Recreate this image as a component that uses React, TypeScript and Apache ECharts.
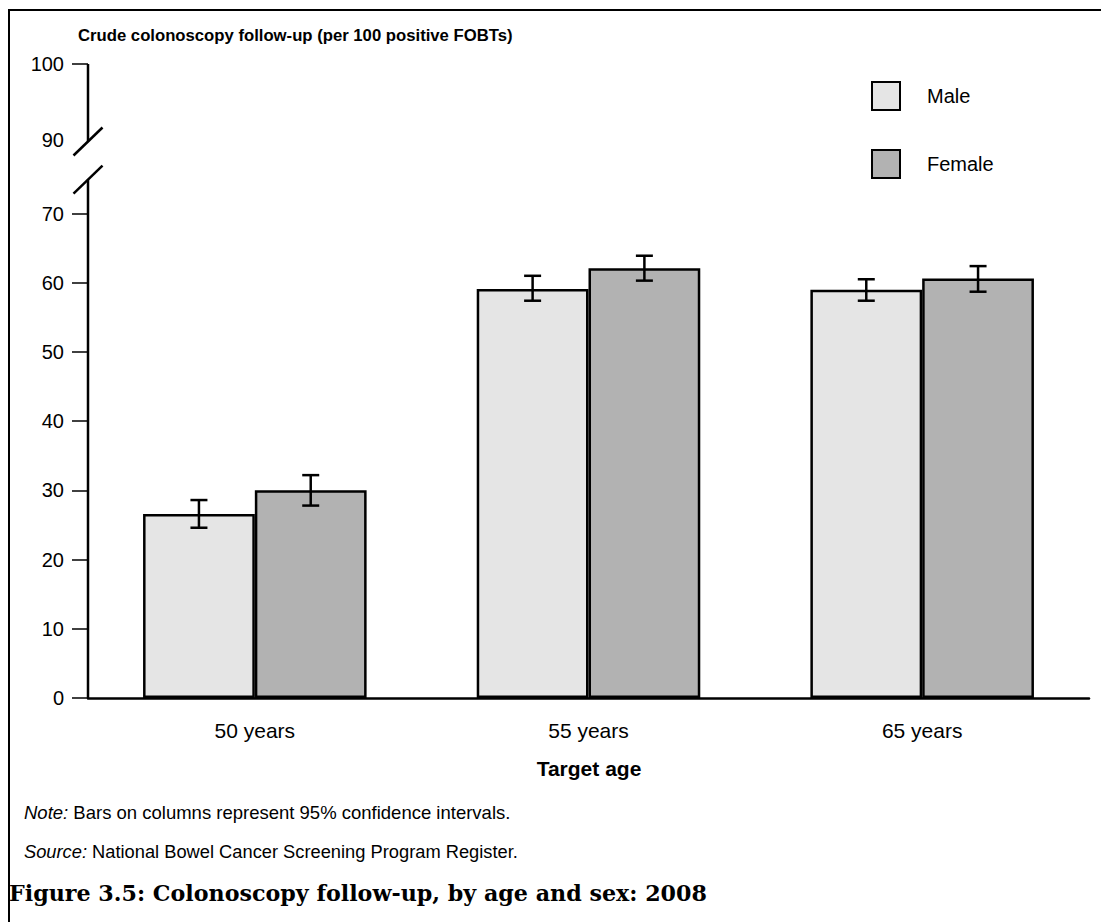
import React, { useEffect, useRef } from "react";
import * as echarts from "echarts";

// ---- data ----
const categories = ["50 years", "55 years", "65 years"];
const seriesNames = ["Male", "Female"];
const maleValues = [26.6, 59.1, 59.0];
const femaleValues = [30.0, 62.1, 60.6];
const maleLow = [24.6, 57.4, 57.4];
const maleHigh = [28.6, 61.0, 60.5];
const femaleLow = [27.8, 60.3, 58.7];
const femaleHigh = [32.2, 63.9, 62.4];
const yTickValues = [0, 10, 20, 30, 40, 50, 60, 70];
// broken axis: where the upper labels sit on the drawing scale
const AXIS_TOP = 91.6; // "100"
const POS_90 = 80.6; // "90"
const BREAK_UPPER = 80.4;
const BREAK_LOWER = 74.9;

const BAR_GAP = 0.33;
const FONT = "Liberation Sans, Arial, sans-serif";

function errorSeries(name: string, low: number[], high: number[], side: number) {
  return {
    type: "custom",
    name: name + " CI",
    z: 10,
    silent: true,
    data: categories.map((_, i) => [i, low[i], high[i]]),
    encode: { x: 0, y: [1, 2] },
    renderItem: (params: any, api: any) => {
      const i = api.value(0);
      const lo = api.coord([i, api.value(1)]);
      const hi = api.coord([i, api.value(2)]);
      const catW = api.size([1, 0])[0];
      const bw = (catW * (1 - BAR_GAP)) / 2;
      const x = lo[0] + (side * bw) / 2;
      const cap = 8.5;
      const style = { stroke: "#000", lineWidth: 2.5 };
      return {
        type: "group",
        children: [
          { type: "line", shape: { x1: x, y1: hi[1], x2: x, y2: lo[1] }, style },
          { type: "line", shape: { x1: x - cap, y1: hi[1], x2: x + cap, y2: hi[1] }, style },
          { type: "line", shape: { x1: x - cap, y1: lo[1], x2: x + cap, y2: lo[1] }, style },
        ],
      };
    },
  };
}

export default function App() {
  const ref = useRef<HTMLDivElement>(null);
  useEffect(() => {
    if (!ref.current) return;
    const chart = echarts.init(ref.current, null, { renderer: "svg" });
    const option: any = {
      animation: false,
      backgroundColor: "#fff",
      textStyle: { fontFamily: FONT, color: "#000" },
      grid: { left: 88, right: 12, top: 64, bottom: 224, containLabel: false },
      legend: {
        data: seriesNames,
        orient: "vertical",
        left: 871,
        top: 81,
        padding: 0,
        itemWidth: 28,
        itemHeight: 28,
        itemGap: 38,
        icon: "rect",
        selectedMode: false,
        textStyle: { fontSize: 20, color: "#000", fontFamily: FONT, padding: [0, 0, 0, 22] },
      },
      xAxis: {
        type: "category",
        data: categories,
        axisLine: { lineStyle: { color: "#000", width: 2.5 } },
        axisTick: { length: 16, lineStyle: { color: "#000", width: 1.5 } },
        axisLabel: { color: "#000", fontSize: 21, margin: 22, fontFamily: FONT },
        splitLine: { show: false },
      },
      yAxis: {
        type: "value",
        min: 0,
        max: AXIS_TOP,
        axisLine: { show: false },
        splitLine: { show: false },
        axisTick: {
          show: true,
          length: 16,
          customValues: [...yTickValues, AXIS_TOP],
          lineStyle: { color: "#000", width: 1.5 },
        },
        axisLabel: {
          color: "#000",
          fontSize: 20,
          margin: 24,
          fontFamily: FONT,
          customValues: [...yTickValues, POS_90, AXIS_TOP],
          formatter: (v: number) => (v > 90 ? "100" : v > 75 ? "90" : String(v)),
        },
      },
      series: [
        {
          type: "bar",
          name: "Male",
          data: maleValues,
          barGap: "0%",
          barCategoryGap: "33%",
          itemStyle: { color: "#e5e5e5", borderColor: "#000", borderWidth: 2.5 },
        },
        {
          type: "bar",
          name: "Female",
          data: femaleValues,
          barGap: "0%",
          barCategoryGap: "33%",
          itemStyle: { color: "#b2b2b2", borderColor: "#000", borderWidth: 2.5 },
        },
        errorSeries("Male", maleLow, maleHigh, -1),
        errorSeries("Female", femaleLow, femaleHigh, 1),
        {
          type: "custom",
          name: "axisBreak",
          silent: true,
          clip: false,
          z: 20,
          data: [[0, 0]],
          renderItem: (params: any, api: any) => {
            const x = params.coordSys.x;
            const yTop = api.coord([0, AXIS_TOP])[1];
            const yUp = api.coord([0, BREAK_UPPER])[1];
            const yLow = api.coord([0, BREAK_LOWER])[1];
            const yZero = api.coord([0, 0])[1];
            const style = { stroke: "#000", lineWidth: 2.5 };
            const dx = 14.5;
            const dy = 14;
            return {
              type: "group",
              children: [
                { type: "line", shape: { x1: x, y1: yTop, x2: x, y2: yUp }, style },
                { type: "line", shape: { x1: x, y1: yLow, x2: x, y2: yZero }, style },
                { type: "line", shape: { x1: x - dx, y1: yUp + dy, x2: x + dx, y2: yUp - dy }, style },
                { type: "line", shape: { x1: x - dx, y1: yLow + dy, x2: x + dx, y2: yLow - dy }, style },
              ],
            };
          },
        },
      ],
      graphic: [
        {
          type: "rect",
          shape: { x: 9, y: 10, width: 1200, height: 1000 },
          style: { fill: "none", stroke: "#000", lineWidth: 2 },
          silent: true,
        },
        {
          type: "text",
          x: 78,
          y: 35,
          style: {
            text: "Crude colonoscopy follow-up (per 100 positive FOBTs)",
            fontFamily: FONT,
            fontWeight: "bold",
            fontSize: 16.7,
            fill: "#000",
            verticalAlign: "middle",
          },
        },
        {
          type: "text",
          x: 589,
          y: 768,
          style: {
            text: "Target age",
            fontFamily: FONT,
            fontWeight: "bold",
            fontSize: 21,
            fill: "#000",
            align: "center",
            verticalAlign: "middle",
          },
        },
        {
          type: "text",
          x: 24,
          y: 812,
          style: {
            text: "{i|Note:} Bars on columns represent 95% confidence intervals.",
            fontFamily: FONT,
            fontSize: 18.5,
            fill: "#000",
            verticalAlign: "middle",
            rich: { i: { fontStyle: "italic", fontFamily: FONT, fontSize: 18.5, fill: "#000" } },
          },
        },
        {
          type: "text",
          x: 24,
          y: 851,
          style: {
            text: "{i|Source:} National Bowel Cancer Screening Program Register.",
            fontFamily: FONT,
            fontSize: 18.3,
            fill: "#000",
            verticalAlign: "middle",
            rich: { i: { fontStyle: "italic", fontFamily: FONT, fontSize: 18.3, fill: "#000" } },
          },
        },
        {
          type: "text",
          x: 9,
          y: 893,
          style: {
            text: "Figure 3.5: Colonoscopy follow-up, by age and sex: 2008",
            fontFamily: "DejaVu Serif, serif",
            fontWeight: "bold",
            fontSize: 22.2,
            fill: "#000",
            verticalAlign: "middle",
          },
        },
      ],
    };
    chart.setOption(option);
    return () => chart.dispose();
  }, []);
  return (
    <div
      ref={ref}
      style={{ position: "absolute", left: 0, top: 0, width: 1101, height: 922 }}
    />
  );
}
